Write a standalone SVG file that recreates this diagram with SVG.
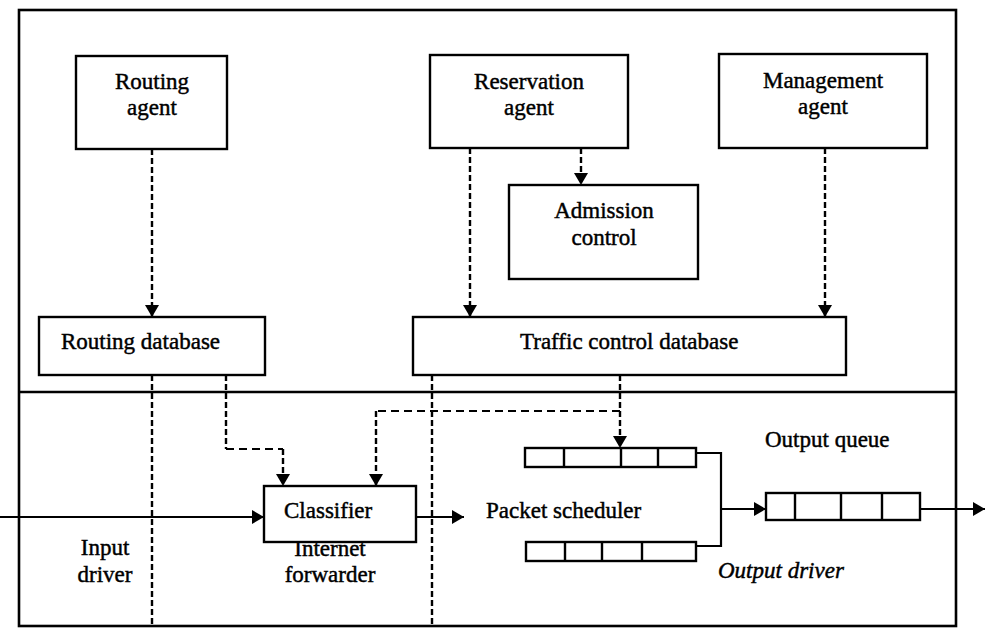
<svg xmlns="http://www.w3.org/2000/svg" width="986" height="628" viewBox="0 0 986 628">
  <defs>
    <marker id="head" markerUnits="userSpaceOnUse" markerWidth="12" markerHeight="14" viewBox="0 0 12 14" refX="12" refY="7" orient="auto">
      <path d="M0,0 L12,7 L0,14 Z" fill="#000"/>
    </marker>
    <style>
      .box { fill: #fff; stroke: #000; stroke-width: 2.4; }
      .cell { fill: none; stroke: #000; stroke-width: 2.4; }
      .frame { fill: none; stroke: #000; stroke-width: 2.6; }
      .lbl { font-family: "Liberation Serif", "Times New Roman", serif; font-size: 23px; fill: #000; stroke: #000; stroke-width: 0.45; }
      .mid { text-anchor: middle; }
      .it { font-style: italic; }
      .dashv { fill: none; stroke: #000; stroke-width: 2.4; stroke-dasharray: 6 3; }
      .dashh { fill: none; stroke: #000; stroke-width: 2.2; stroke-dasharray: 8 5; }
      .flow { fill: none; stroke: #000; stroke-width: 2.2; }
    </style>
  </defs>
  <rect width="986" height="628" fill="#fff"/>

  <!-- outer frame and the control / data plane divider -->
  <g id="frame">
    <rect class="frame" x="19" y="10" width="937" height="616"/>
    <line class="frame" x1="19" y1="392" x2="956" y2="392"/>
  </g>

  <!-- layer labels (drawn under the boxes) -->
  <g id="layer-labels">
    <text class="lbl mid" x="105" y="555">Input</text>
    <text class="lbl mid" x="105" y="582">driver</text>
    <text class="lbl mid" x="330" y="556">Internet</text>
    <text class="lbl mid" x="330" y="582">forwarder</text>
    <text class="lbl" x="486" y="518">Packet scheduler</text>
    <text class="lbl" x="765" y="447">Output queue</text>
    <text class="lbl it" x="718" y="578">Output driver</text>
  </g>

  <!-- connectors -->
  <g id="connectors">
    <path class="dashv" d="M152,149 V317" marker-end="url(#head)"/>
    <path class="dashv" d="M581,148 V185" marker-end="url(#head)"/>
    <path class="dashv" d="M470,148 V317" marker-end="url(#head)"/>
    <path class="dashv" d="M825,148 V317" marker-end="url(#head)"/>
    <path class="dashv" d="M152,375 V626"/>
    <path class="dashv" d="M432,375 V626"/>
    <path class="dashv" d="M226,375 V449"/>
    <path class="dashh" d="M226,449 H283"/>
    <path class="dashv" d="M283,449 V486" marker-end="url(#head)"/>
    <path class="dashv" d="M620,375 V448" marker-end="url(#head)"/>
    <path class="dashh" d="M620,411 H376"/>
    <path class="dashv" d="M376,411 V486" marker-end="url(#head)"/>
    <path class="flow" d="M0,517 H264" marker-end="url(#head)"/>
    <path class="flow" d="M416,517 H464" marker-end="url(#head)"/>
    <path class="flow" d="M696,453 H721 V546 H696"/>
    <path class="flow" d="M721,509 H766" marker-end="url(#head)"/>
    <path class="flow" d="M920,509 H985" marker-end="url(#head)"/>
  </g>

  <g id="routing-agent">
    <rect class="box" x="76" y="56" width="151" height="93"/>
    <text class="lbl mid" x="152" y="89">Routing</text>
    <text class="lbl mid" x="152" y="115">agent</text>
  </g>
  <g id="reservation-agent">
    <rect class="box" x="430" y="55" width="198" height="93"/>
    <text class="lbl mid" x="529" y="89">Reservation</text>
    <text class="lbl mid" x="529" y="115">agent</text>
  </g>
  <g id="management-agent">
    <rect class="box" x="719" y="54" width="208" height="94"/>
    <text class="lbl mid" x="823" y="88">Management</text>
    <text class="lbl mid" x="823" y="114">agent</text>
  </g>
  <g id="admission-control">
    <rect class="box" x="509" y="185" width="189" height="94"/>
    <text class="lbl mid" x="604" y="218">Admission</text>
    <text class="lbl mid" x="604" y="245">control</text>
  </g>
  <g id="routing-database">
    <rect class="box" x="39" y="317" width="226" height="58"/>
    <text class="lbl" x="61" y="349">Routing database</text>
  </g>
  <g id="traffic-control-database">
    <rect class="box" x="413" y="317" width="433" height="58"/>
    <text class="lbl" x="520" y="349">Traffic control database</text>
  </g>
  <g id="classifier">
    <rect class="box" x="264" y="486" width="152" height="56"/>
    <text class="lbl" x="284" y="518">Classifier</text>
  </g>
  <g id="queue-upper">
    <rect class="box" x="525" y="448" width="171" height="19"/>
    <path class="cell" d="M564,448 V467 M621,448 V467 M658,448 V467"/>
  </g>
  <g id="queue-lower">
    <rect class="box" x="526" y="542" width="170" height="19"/>
    <path class="cell" d="M565,542 V561 M602,542 V561 M642,542 V561"/>
  </g>
  <g id="output-queue">
    <rect class="box" x="766" y="493" width="154" height="27"/>
    <path class="cell" d="M795,493 V520 M841,493 V520 M882,493 V520"/>
  </g>
</svg>
